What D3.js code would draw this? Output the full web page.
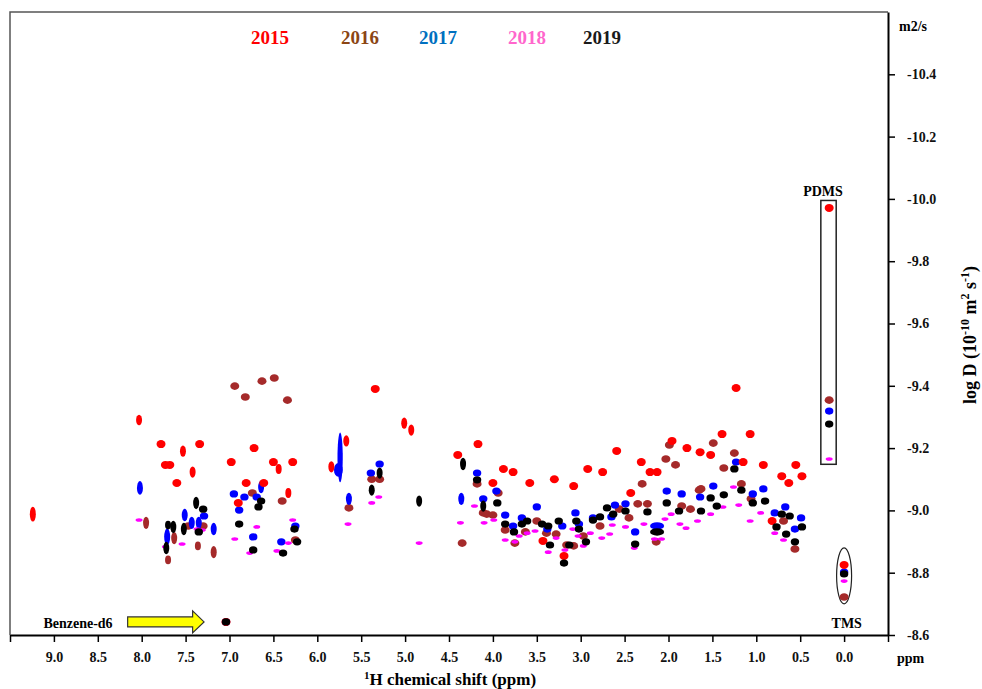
<html>
<head>
<meta charset="utf-8">
<style>
body{margin:0;background:#fff;}
text{font-family:"Liberation Serif","Times New Roman",serif;font-weight:bold;}
</style>
</head>
<body>
<script src="https://cdn.jsdelivr.net/npm/d3@7/dist/d3.min.js"></script>
<script>
// series: [ppm, logD, (half peak height in logD), (half peak width in ppm)]
var years=["2015","2016","2017","2018","2019"];
var s2015=[[9.24,-8.988,0.024],[8.03,-9.29,0.017],[7.78,-9.213],[7.53,-9.19,0.018],[7.34,-9.213],
  [7.73,-9.146],[7.68,-9.146],[7.42,-9.123,0.018],[7.60,-9.088],[6.98,-9.155],[6.72,-9.20],[6.50,-9.155],
  [6.44,-9.133,0.016],[6.28,-9.155],[6.81,-9.088],[6.61,-9.088],[6.90,-9.024],[6.33,-9.056,0.016],
  [5.84,-9.14,0.018],[5.67,-9.223,0.018],[5.34,-9.39],[5.01,-9.28,0.018],[4.93,-9.258,0.018],[4.40,-9.178],
  [4.17,-9.213],[3.88,-9.133],[3.77,-9.123],[4.00,-9.088],[3.58,-9.088],[3.30,-9.10],[3.08,-9.078],
  [2.92,-9.133],[2.75,-9.123],[2.59,-9.191],[2.31,-9.155],[2.43,-9.056],[2.21,-9.123],[2.13,-9.123],
  [1.96,-9.223],[1.79,-9.20],[1.64,-9.187],[1.52,-9.178],[1.39,-9.245],[1.23,-9.393],[1.07,-9.245],
  [1.15,-9.155],[0.92,-9.146],[0.71,-9.11],[0.63,-9.088],[0.55,-9.146],[0.48,-9.11],[0.82,-8.966],
  [3.19,-8.854],[3.43,-8.902],[0.17,-9.971],[0.00,-8.825],[7.04,-8.642]];
var s2016=[[6.94,-9.399],[6.63,-9.415],[6.49,-9.425],[6.82,-9.364],[6.34,-9.354],[7.95,-8.96,0.02],
  [6.74,-9.056],[6.40,-9.03],[7.63,-8.911,0.02],[7.36,-8.886,0.014],[7.18,-8.866,0.02],[7.70,-8.841,0.014],
  [7.47,-8.95],[7.30,-8.95],[6.25,-8.905],[5.64,-9.008],[5.38,-9.10],[5.29,-9.10],[4.35,-8.895],[4.18,-9.085],
  [3.94,-9.056],[4.11,-8.992],[4.07,-8.988],[4.00,-8.985],[3.86,-8.937],[3.75,-8.895],[3.63,-8.931],
  [3.50,-8.966],[3.39,-8.927],[3.28,-8.924],[3.16,-8.889],[3.08,-8.886],[2.97,-8.918],[2.78,-8.95],
  [2.56,-9.004],[2.45,-8.976],[2.35,-9.021],[2.24,-9.021],[2.30,-9.085],[2.14,-8.899],[2.03,-9.165],
  [1.99,-9.21],[1.92,-9.146],[1.85,-9.014],[1.75,-9.004],[1.65,-9.065],[1.49,-9.216],[1.37,-9.136],
  [1.25,-9.184],[1.17,-9.085],[1.63,-9.069],[1.06,-9.037],[0.69,-8.966],[0.56,-8.876],[0.17,-9.354],
  [0.00,-8.722]];
var s2017=[[8.02,-9.072,0.022],[6.64,-9.075,0.02],[6.95,-9.053],[6.83,-9.043],[6.69,-9.043],[6.89,-9.001],
  [7.51,-8.985,0.02],[7.43,-8.96,0.02],[7.35,-8.96,0.02],[7.29,-8.982],[7.18,-8.94,0.02],[7.71,-8.915,0.027],
  [6.73,-8.915],[6.41,-8.899],[6.25,-8.95],[5.74,-9.17,0.08,0.03],[5.76,-9.13,0.022,0.05],[5.64,-9.037,0.02],
  [5.39,-9.12],[5.29,-9.149],[4.36,-9.037,0.02],[4.18,-9.12],[4.11,-9.037],[3.96,-9.062],[3.86,-8.985],
  [3.77,-8.95],[3.67,-8.976],[3.50,-9.011],[3.38,-8.94],[3.21,-8.95],[3.06,-8.992],[3.02,-8.956],
  [2.86,-8.976],[2.65,-8.979],[2.61,-9.017],[2.49,-9.021],[2.38,-8.931],[2.13,-8.95,0.012,0.08],
  [2.02,-9.062],[1.85,-9.053],[1.64,-9.043],[1.49,-9.078],[1.23,-9.155],[1.04,-9.053],[0.92,-9.069],
  [0.79,-8.992],[0.67,-9.011],[0.56,-8.94],[0.49,-8.976],[0.17,-9.319],[0.00,-8.802],[7.04,-8.642]];
var s2018=[[8.03,-8.969],[7.37,-8.94],[7.31,-8.937],[7.54,-8.892],[7.73,-8.883],[6.94,-8.908],[6.69,-8.947],
  [6.77,-8.863],[6.46,-8.87],[6.33,-8.895],[6.28,-8.969],[5.65,-8.956],[5.38,-9.024],[5.30,-9.043],
  [4.84,-8.895],[4.37,-8.96],[4.21,-9.014],[4.10,-8.96],[3.99,-8.969],[3.86,-8.905],[3.75,-8.899],
  [3.70,-8.918],[3.61,-8.927],[3.52,-8.934],[3.37,-8.866],[3.28,-8.911],[3.18,-8.873],[3.09,-8.94],
  [3.03,-8.918],[2.97,-8.886],[2.89,-8.927],[2.76,-8.911],[2.67,-8.924],[2.64,-8.953],[2.49,-8.947],
  [2.39,-8.879],[2.28,-8.956],[2.16,-8.908],[2.08,-8.908],[2.04,-8.972],[1.97,-8.988],[1.87,-8.956],
  [1.80,-8.943],[1.67,-8.966],[1.52,-8.988],[1.38,-9.011],[1.26,-9.075],[1.20,-9.017],[1.07,-8.966],
  [0.95,-8.992],[0.79,-8.927],[0.69,-8.905],[0.17,-9.165],[0.00,-8.773]];
var s2019=[[7.38,-9.024,0.02],[7.30,-9.004],[7.52,-8.94,0.02],[7.64,-8.947,0.02],[7.70,-8.953,0.014],
  [7.35,-8.931],[7.72,-8.879,0.02],[6.64,-9.03],[6.67,-9.011],[6.89,-8.956],[6.73,-8.873],[6.26,-8.94],
  [6.23,-8.899],[6.39,-8.863],[5.38,-9.065,0.018],[5.29,-9.12,0.018],[4.84,-9.03,0.018],[4.34,-9.149,0.02],
  [4.18,-9.098],[4.11,-9.014,0.018],[3.95,-9.024],[3.86,-8.956],[3.76,-8.931],[3.67,-8.956],[3.61,-8.966],
  [3.44,-8.956],[3.37,-8.95],[3.35,-8.889],[3.25,-8.966],[3.13,-8.889],[3.19,-8.831],[3.05,-8.966],
  [3.02,-8.94],[2.94,-8.899],[2.86,-8.969],[2.78,-8.979],[2.70,-9.008],[2.63,-8.988],[2.49,-8.998],
  [2.38,-8.892],[2.24,-8.995],[2.13,-8.931,0.012,0.08],[2.02,-9.024],[1.88,-8.998],[1.63,-8.998],
  [1.52,-9.04],[1.45,-9.014],[1.37,-9.05],[1.25,-9.133],[1.17,-9.065],[1.04,-9.024],[0.90,-9.03],
  [0.71,-8.988],[0.62,-8.982],[0.77,-8.947],[0.66,-8.924],[0.48,-8.947],[0.56,-8.899],[0.17,-9.277],
  [0.00,-8.796],[7.04,-8.642]];
var xTicks=[9.0,8.5,8.0,7.5,7.0,6.5,6.0,5.5,5.0,4.5,4.0,3.5,3.0,2.5,2.0,1.5,1.0,0.5,0.0];
var yTicks=[-8.6,-8.8,-9.0,-9.2,-9.4,-9.6,-9.8,-10.0,-10.2,-10.4];

var width=982,height=689;
var svg=d3.select("body").append("svg").attr("width",width).attr("height",height);
var x=d3.scaleLinear().domain([9.5,-0.5]).range([10,888]);
var y=d3.scaleLinear().domain([-8.6,-10.6]).range([635,12]);

// frame (top + left)
svg.append("path").attr("d","M"+x(9.5)+","+y(-8.6)+"V"+y(-10.6)+"H"+x(-0.5))
   .attr("fill","none").attr("stroke","#555").attr("stroke-width",1.5);

// axes
var fmt=function(d){return d.toFixed(1);};
var gx=svg.append("g").attr("transform","translate(0,"+y(-8.6)+")");
gx.call(d3.axisBottom(x).tickValues(d3.range(-5,96).map(function(i){return i/10;})).tickSize(3.5).tickFormat("").tickSizeOuter(0));
gx.call(d3.axisBottom(x).tickValues(xTicks.concat([9.5,-0.5])).tickSize(7).tickPadding(10).tickFormat(function(d){return xTicks.indexOf(d)<0?"":fmt(d);}).tickSizeOuter(0));
var gy=svg.append("g").attr("transform","translate("+x(-0.5)+",0)");
gy.call(d3.axisRight(y).tickValues(d3.range(0,101).map(function(i){return -8.6-i*0.02;})).tickSize(3.5).tickFormat("").tickSizeOuter(0));
gy.call(d3.axisRight(y).tickValues(yTicks).tickSize(7).tickPadding(12).tickFormat(fmt).tickSizeOuter(0));
svg.selectAll(".domain").attr("stroke","#000").attr("stroke-width",2);
svg.selectAll(".tick line").attr("stroke","#000").attr("stroke-width",1.5);
svg.selectAll(".tick text").attr("font-size",14).attr("font-family","Liberation Serif, serif").attr("font-weight","bold").attr("fill","#111");

svg.append("text").attr("x",897).attr("y",663).attr("font-size",14).text("ppm");
svg.append("text").attr("x",899).attr("y",31).attr("font-size",14).text("m2/s");
svg.append("text").attr("x",450).attr("y",685).attr("text-anchor","middle").attr("font-size",17)
   .html('<tspan font-size="11" dy="-6">1</tspan><tspan dy="6">H chemical shift (ppm)</tspan>');
svg.append("text").attr("transform","translate(976,335) rotate(-90)").attr("text-anchor","middle").attr("font-size",18)
   .html('log D (10<tspan font-size="12" dy="-7">-10</tspan><tspan dy="7"> m</tspan><tspan font-size="12" dy="-7">2</tspan><tspan dy="7"> s</tspan><tspan font-size="12" dy="-7">-1</tspan><tspan dy="7">)</tspan>');

// legend
var legColor=["#ff0000","#8b4513","#0070c0","#ff66cc","#1a1a1a"];
var legX=[270,360,438,527,602];
svg.selectAll(".leg").data(years).join("text").attr("class","leg")
   .attr("x",function(d,i){return legX[i];}).attr("y",44).attr("text-anchor","middle")
   .attr("font-size",19).attr("fill",function(d,i){return legColor[i];}).text(function(d){return d;});

// annotations
svg.append("rect").attr("x",x(0.265)).attr("y",y(-9.995)).attr("width",x(0.09)-x(0.265)).attr("height",y(-9.148)-y(-9.995))
   .attr("fill","none").attr("stroke","#222").attr("stroke-width",1.5);
svg.append("text").attr("x",x(0.24)).attr("y",196).attr("text-anchor","middle").attr("font-size",14).text("PDMS");
svg.append("ellipse").attr("cx",x(0)).attr("cy",y(-8.79)).attr("rx",7.5).attr("ry",y(-8.7)-y(-8.79))
   .attr("fill","none").attr("stroke","#222").attr("stroke-width",1.2);
svg.append("text").attr("x",x(-0.03)).attr("y",628).attr("text-anchor","middle").attr("font-size",14).text("TMS");
svg.append("text").attr("x",78).attr("y",628).attr("text-anchor","middle").attr("font-size",14).text("Benzene-d6");
var ax0=x(8.16),ax1=x(7.29),ay=y(-8.642),ah=x(7.42);
svg.append("path").attr("d","M"+ax0+","+(ay-5)+"H"+ah+"V"+(ay-11)+"L"+ax1+","+ay+"L"+ah+","+(ay+11)+"V"+(ay+5)+"H"+ax0+"Z")
   .attr("fill","#ffff00").attr("stroke","#333").attr("stroke-width",1.2);

// peaks
var series=[s2015,s2016,s2017,s2018,s2019];
var markColor=["#ff0000","#a52a2a","#0000ff","#ff00ff","#000000"];
var markR=[[4.5,4],[4.5,3.8],[4.2,3.6],[3.5,1.8],[4.2,3.6]];
var order=[1,2,0,3,4];
var gp=svg.append("g");
order.forEach(function(k){
  gp.append("g").selectAll("ellipse").data(series[k]).join("ellipse")
    .attr("cx",function(d){return x(d[0]);})
    .attr("cy",function(d){return y(d[1]);})
    .attr("ry",function(d){return d[2]!=null?Math.abs(y(d[1]+d[2])-y(d[1])):markR[k][1];})
    .attr("rx",function(d){return d[3]!=null?Math.abs(x(d[0]+d[3])-x(d[0])):(d[2]!=null?3:markR[k][0]);})
    .attr("fill",markColor[k]);
});
</script>
</body>
</html>
